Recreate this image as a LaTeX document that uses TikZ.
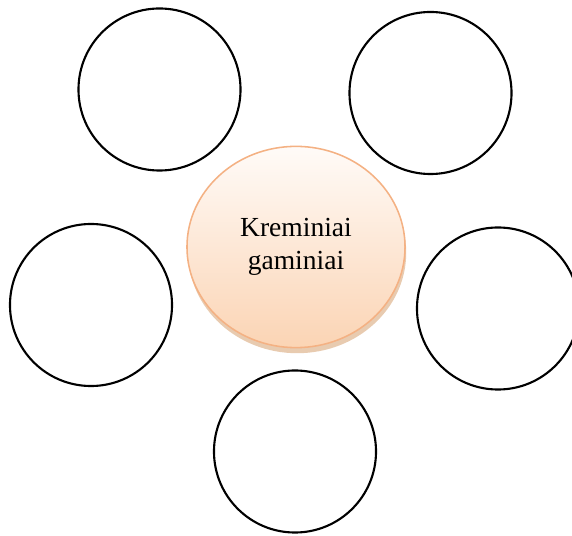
\documentclass[tikz,border=0pt]{standalone}
\usepackage{fontspec}
\setmainfont{Liberation Serif}
\definecolor{mpeach}{RGB}{251,212,180}
\definecolor{mlight}{RGB}{255,251,248}
\definecolor{mborder}{RGB}{244,177,131}
\definecolor{mshadow}{RGB}{214,160,112}
\usetikzlibrary{shapes.geometric,shadows}

\begin{document}
\begin{tikzpicture}[x=0.025cm, y=-0.025cm,
    ring/.style={draw, circle, line width=1.5pt, minimum size=4.05cm, inner sep=0pt},
    hub/.style={ellipse, draw=mborder, line width=1.1pt, inner sep=0pt,
      minimum width=5.45cm, minimum height=5.03cm,
      top color=mlight, bottom color=mpeach,
      drop shadow={shadow xshift=0.03cm, shadow yshift=-0.14cm, fill=mshadow, opacity=0.55},
      font=\fontsize{19.6}{23.6}\selectfont, align=center}]
        \useasboundingbox (0,0) rectangle (572,536);
        % centre
        \node[hub] (hub) at (296,247) {Kreminiai\\gaminiai};
        % outer rings
        \node[ring] (topleft) at (159.5,89.5) {};
        \node[ring] (topright) at (430.5,93) {};
        \node[ring] (left) at (91,305) {};
        \node[ring] (right) at (498,308.5) {};
        \node[ring] (bottom) at (295,451.5) {};
\end{tikzpicture}
\end{document}
